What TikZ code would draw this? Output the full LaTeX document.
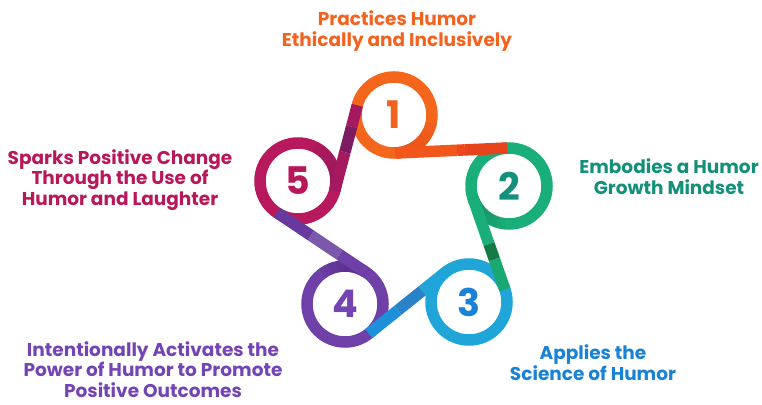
\documentclass[tikz,border=0pt]{standalone}
\usepackage{fontspec}
\setmainfont{Poppins}
\usetikzlibrary{calc}

\definecolor{orangeA}{HTML}{F4661B}
\definecolor{orangeB}{HTML}{F2561A}
\definecolor{orangeC}{HTML}{E8441C}
\definecolor{orangeT}{HTML}{F4621F}
\definecolor{greenA}{HTML}{1AAF7A}
\definecolor{greenB}{HTML}{137A45}
\definecolor{greenC}{HTML}{128256}
\definecolor{greenT}{HTML}{13907A}
\definecolor{blueA}{HTML}{20A5D8}
\definecolor{blueB}{HTML}{2A82C8}
\definecolor{blueC}{HTML}{1C90D8}
\definecolor{blueT}{HTML}{1A82D6}
\definecolor{purpleA}{HTML}{6E40A8}
\definecolor{purpleB}{HTML}{7A58AA}
\definecolor{purpleC}{HTML}{4A1F78}
\definecolor{purpleT}{HTML}{7444B4}
\definecolor{magentaA}{HTML}{B8195C}
\definecolor{magentaB}{HTML}{A51A5E}
\definecolor{magentaC}{HTML}{7E1C62}
\definecolor{magentaT}{HTML}{B8185A}

\tikzset{
  ring/.style={line width=11.5pt},
  band/.style={line width=11.5pt, line cap=butt},
  shadearc/.style={line width=11.5pt, line cap=butt, draw opacity=0.14},
  digit/.style={font=\fontsize{38}{38}\selectfont\bfseries, inner sep=0pt},
  caption/.style={font=\fontsize{18.5}{20.5}\selectfont\bfseries, align=center, inner sep=0pt, anchor=base},
}

% darkening towards the point where a band leaves a ring:
% #1 centre, #2 colour, #3 exit angle, #4 angular span before the exit
\newcommand{\ringshade}[4]{%
  \foreach \k in {1,...,6}{%
    \draw[shadearc, #2] ($(#1)+(#3-#4*\k/6:38)$) arc[start angle=#3-#4*\k/6, end angle=#3, radius=38];
  }%
}

\begin{document}
\begin{tikzpicture}[x=1pt, y=-1pt]
  \useasboundingbox (0,0) rectangle (762,404);

  % ring centres
  \coordinate (c1) at (394,115);
  \coordinate (c2) at (509,186);
  \coordinate (c3) at (469,302);
  \coordinate (c4) at (345,304);
  \coordinate (c5) at (298,181);

  % tangent points of the crossing bands
  \coordinate (t12a) at (395.7,153.0);
  \coordinate (t12b) at (507.3,148.0);
  \coordinate (t23a) at (473.1,198.6);
  \coordinate (t23b) at (504.9,289.4);
  \coordinate (t34a) at (445.2,272.4);
  \coordinate (t34b) at (368.8,333.6);
  \coordinate (t45a) at (366.1,272.4);
  \coordinate (t45b) at (276.9,212.6);
  \coordinate (t51a) at (334.7,190.7);
  \coordinate (t51b) at (357.3,105.3);

  % rings
  \draw[ring, orangeA]  (c1) circle[radius=38];
  \draw[ring, greenA]   (c2) circle[radius=38];
  \draw[ring, blueA]    (c3) circle[radius=38];
  \draw[ring, purpleA]  (c4) circle[radius=38];
  \draw[ring, magentaA] (c5) circle[radius=38];

  % darker stretches of the rings
  \ringshade{c1}{orangeC}{87.5}{75}
  \ringshade{c2}{greenC}{160.7}{65}
  \ringshade{c4}{purpleC}{303.8}{70}
  \ringshade{c5}{magentaC}{374.8}{80}

  % bands, in short segments of slightly different tone
  \coordinate (s12) at ($(t12a)!0.55!(t12b)$);
  \coordinate (u12) at ($(t12a)!0.62!(t12b)$);
  \draw[band, orangeB] (t12a) -- (s12);
  \draw[band, orangeC!70!orangeB] (s12) -- (u12);
  \draw[band, orangeC] (u12) -- (t12b);

  \coordinate (s23) at ($(t23a)!0.50!(t23b)$);
  \coordinate (u23) at ($(t23a)!0.67!(t23b)$);
  \draw[band, greenA] (t23a) -- (s23);
  \draw[band, greenB] (s23) -- (u23);
  \draw[band, greenA!85!greenB] (u23) -- (t23b);

  \coordinate (s34) at ($(t34a)!0.30!(t34b)$);
  \coordinate (u34) at ($(t34a)!0.62!(t34b)$);
  \draw[band, blueA] (t34a) -- (s34);
  \draw[band, blueB] (s34) -- (u34);
  \draw[band, blueC] (u34) -- (t34b);

  \coordinate (s45) at ($(t45a)!0.30!(t45b)$);
  \coordinate (u45) at ($(t45a)!0.62!(t45b)$);
  \draw[band, purpleA] (t45a) -- (s45);
  \draw[band, purpleB] (s45) -- (u45);
  \draw[band, purpleA!80!purpleC] (u45) -- (t45b);

  \coordinate (s51) at ($(t51a)!0.45!(t51b)$);
  \coordinate (u51) at ($(t51a)!0.75!(t51b)$);
  \draw[band, magentaB] (t51a) -- (s51);
  \draw[band, magentaC] (s51) -- (u51);
  \draw[band, magentaB] (u51) -- (t51b);

  % numbers
  \node[digit, text=orangeT]  (n1) at (c1) {1};
  \node[digit, text=greenT]   (n2) at (c2) {2};
  \node[digit, text=blueT]    (n3) at (c3) {3};
  \node[digit, text=purpleT]  (n4) at (c4) {4};
  \node[digit, text=magentaT] (n5) at (c5) {5};

  % captions (placed by the baseline of their last line)
  \node[caption, text=orangeT]  (l1) at (397,46) {Practices Humor\\Ethically and Inclusively};
  \node[caption, text=greenT]   (l2) at (669,194) {Embodies a Humor\\Growth Mindset};
  \node[caption, text=blueT]    (l3) at (593,380) {Applies the\\Science of Humor};
  \node[caption, text=purpleT]  (l4) at (153,397) {Intentionally Activates the\\Power of Humor to Promote\\Positive Outcomes};
  \node[caption, text=magentaT] (l5) at (120,205) {Sparks Positive Change\\Through the Use of\\Humor and Laughter};
\end{tikzpicture}
\end{document}
